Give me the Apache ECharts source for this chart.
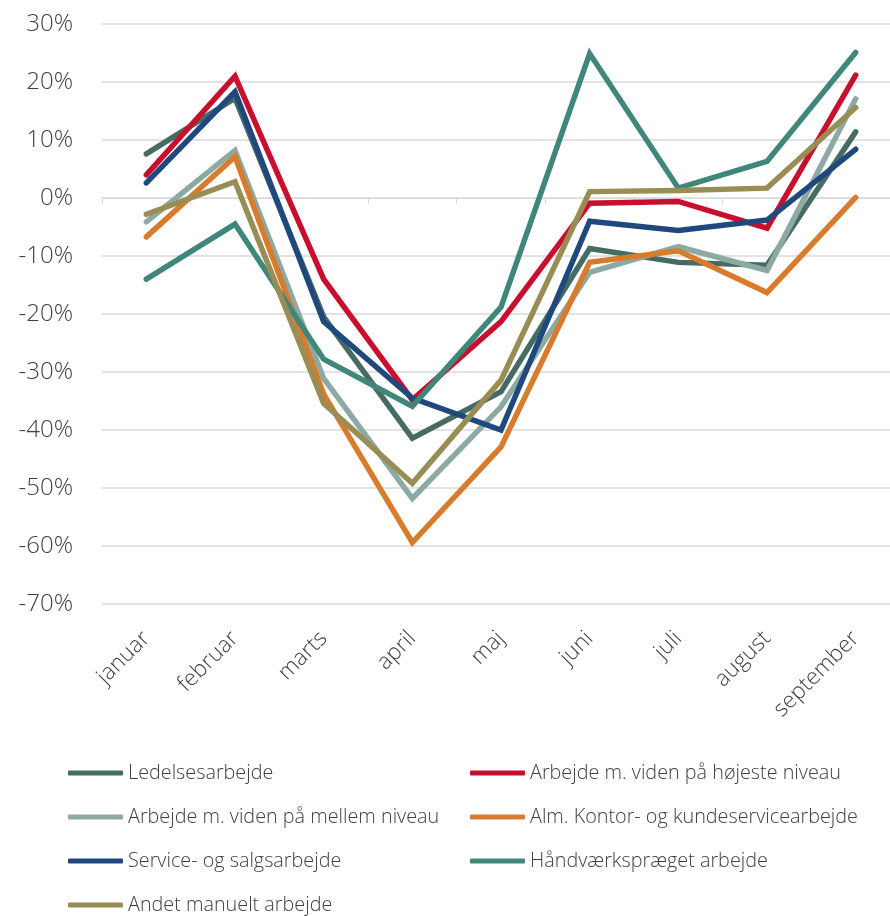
<!DOCTYPE html>
<html>
<head>
<meta charset="utf-8">
<script src="https://cdn.jsdelivr.net/npm/echarts@6/dist/echarts.min.js"></script>
<style>
  html, body { margin: 0; padding: 0; background: #fff; overflow: hidden; }
  #chart { width: 900px; height: 916px; }
</style>
</head>
<body>
<div id="chart"></div>
<script>
// måneder
const months = ['januar', 'februar', 'marts', 'april', 'maj', 'juni', 'juli', 'august', 'september']

// serier (procent)
const ledelses = [7.6, 17.2, -20.5, -41.4, -33.4, -8.7, -11.1, -11.6, 11.4]
const hoejeste = [4.0, 21.0, -14.0, -34.8, -21.3, -0.9, -0.6, -5.2, 21.2]
const mellem = [-4.1, 8.2, -31.1, -51.8, -36.0, -12.8, -8.4, -12.5, 17.1]
const kontor = [-6.7, 7.1, -33.8, -59.4, -42.9, -11.1, -9.1, -16.3, 0.1]
const service = [2.6, 18.3, -21.3, -34.5, -40.0, -4.0, -5.6, -3.8, 8.4]
const haandvaerk = [-14.0, -4.5, -27.8, -35.9, -18.8, 24.9, 1.7, 6.3, 25.1]
const manuelt = [-2.8, 2.8, -35.4, -49.2, -31.4, 1.1, 1.3, 1.7, 15.6]

const seriesDefs = [
  { name: 'Ledelsesarbejde', data: ledelses, color: '#466b64' },
  { name: 'Arbejde m. viden på højeste niveau', data: hoejeste, color: '#c8102e' },
  { name: 'Arbejde m. viden på mellem niveau', data: mellem, color: '#8ca9a3' },
  { name: 'Alm. Kontor- og kundeservicearbejde', data: kontor, color: '#d97b2c' },
  { name: 'Service- og salgsarbejde', data: service, color: '#1f497d' },
  { name: 'Håndværkspræget arbejde', data: haandvaerk, color: '#3f867b' },
  { name: 'Andet manuelt arbejde', data: manuelt, color: '#988e55' }
]

const font = '"Open Sans", "Noto Sans", sans-serif'
const textColor = '#404040'

const chart = echarts.init(document.getElementById('chart'))

// to kolonner i legenden
const legendBase = {
  orient: 'vertical',
  icon: 'roundRect',
  itemWidth: 55,
  itemHeight: 5,
  itemGap: 24,
  padding: 0,
  height: 160,
  textStyle: { fontFamily: font, fontSize: 19.8, lineHeight: 20, color: textColor, fontWeight: 300 }
}

const option = {
  animation: false,
  grid: { left: 102, top: 24, right: 0, bottom: 312 },
  legend: [
    Object.assign({}, legendBase, {
      left: 68, top: 763,
      data: ['Ledelsesarbejde', 'Arbejde m. viden på mellem niveau', 'Service- og salgsarbejde', 'Andet manuelt arbejde']
    }),
    Object.assign({}, legendBase, {
      left: 470, top: 763,
      data: ['Arbejde m. viden på højeste niveau', 'Alm. Kontor- og kundeservicearbejde', 'Håndværkspræget arbejde']
    })
  ],
  xAxis: {
    type: 'category',
    data: months,
    boundaryGap: true,
    axisLine: { lineStyle: { color: '#d9d9d9', width: 1 } },
    axisTick: { show: true, length: 6, lineStyle: { color: '#d9d9d9' } },
    axisLabel: {
      rotate: 45,
      margin: 31,
      interval: 0,
      fontFamily: font,
      fontSize: 22.5,
      fontWeight: 300,
      color: textColor
    }
  },
  yAxis: {
    type: 'value',
    min: -70,
    max: 30,
    interval: 10,
    axisLine: { show: false },
    axisTick: { show: false },
    splitLine: { lineStyle: { color: '#d9d9d9', width: 1.5 } },
    axisLabel: {
      formatter: '{value}%',
      margin: 29,
      fontFamily: font,
      fontSize: 24,
      fontWeight: 300,
      color: textColor
    }
  },
  series: seriesDefs.map(s => ({
    name: s.name,
    type: 'line',
    data: s.data,
    showSymbol: false,
    symbol: 'none',
    color: s.color,
    lineStyle: { width: 5.5, color: s.color, cap: 'round', join: 'miter' }
  }))
}

chart.setOption(option)
</script>
</body>
</html>
